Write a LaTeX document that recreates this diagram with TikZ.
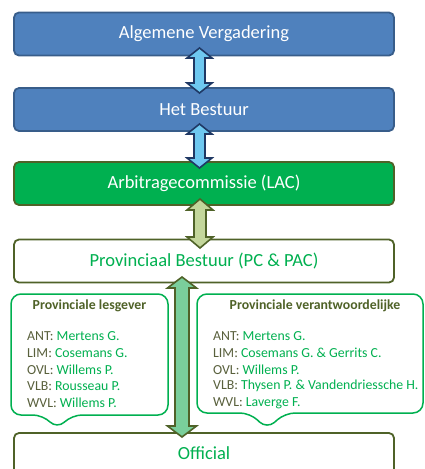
\documentclass[tikz,border=0pt]{standalone}
\usepackage{fontspec}
\setmainfont{Carlito}
\definecolor{bluefill}{RGB}{79,129,189}
\definecolor{blueline}{RGB}{56,93,138}
\definecolor{navy}{RGB}{31,56,100}
\definecolor{lightblue}{RGB}{110,200,240}
\definecolor{grfill}{RGB}{0,176,80}
\definecolor{olive}{RGB}{79,98,40}
\definecolor{lightolive}{RGB}{195,214,155}
\definecolor{midgreen}{RGB}{122,207,155}
\definecolor{txtgreen}{RGB}{0,176,80}
\definecolor{lbl}{RGB}{89,96,60}
\begin{document}
\begin{tikzpicture}[x=1pt,y=-1pt,
  box/.style={rounded corners=5pt, line width=1.8pt, minimum width=380pt, minimum height=43pt, font=\fontsize{18.5}{22}\selectfont},
  bluebox/.style={box, fill=bluefill, draw=blueline, text=white},
  greenbox/.style={box, fill=grfill, draw=olive, text=white},
  whitebox/.style={box, fill=white, draw=olive, text=txtgreen},
  callout/.style={draw=txtgreen, line width=1.5pt, fill=white, rounded corners=10pt},
  ttl/.style={font=\fontsize{13.8}{16}\selectfont\bfseries, text=olive},
  entry/.style={anchor=west, font=\fontsize{13.8}{16}\selectfont, text=lbl, inner sep=0pt},
  darrow/.style={line width=1.6pt, line join=miter}
]
\useasboundingbox (0,0) rectangle (425,469);

\node[bluebox] (av) at (204,34) {Algemene Vergadering};
\node[bluebox] (hb) at (204,109.5) {Het Bestuur};
\node[greenbox] (lac) at (204,183.5) {Arbitragecommissie (LAC)};
\node[whitebox] (pb) at (204,261) {Provinciaal Bestuur (PC \& PAC)};
\node[whitebox, minimum height=50pt] (off) at (204,458) {};
\node[text=txtgreen, font=\fontsize{18.5}{22}\selectfont] (offt) at (204,453) {Official};

% callouts
\draw[callout] (43,415) -- (57,429) -- (72,415) [rounded corners=10pt] -- (168,415) -- (168,294) -- (11,294) -- (11,415) -- cycle;
\draw[callout] (250,413) -- (267,429) -- (285,413) [rounded corners=10pt] -- (423,413) -- (423,294) -- (197,294) -- (197,413) -- cycle;
\node[ttl] (t1) at (89.5,306) {Provinciale lesgever};
\node[ttl] (t2) at (315,306) {Provinciale verantwoordelijke};
\node[entry] (l1) at (27,336) {ANT: \textcolor{txtgreen}{Mertens G.}};
\node[entry] (l2) at (27,352.7) {LIM: \textcolor{txtgreen}{Cosemans G.}};
\node[entry] (l3) at (27,369.4) {OVL: \textcolor{txtgreen}{Willems P.}};
\node[entry] (l4) at (27,386.1) {VLB: \textcolor{txtgreen}{Rousseau P.}};
\node[entry] (l5) at (27,402.8) {WVL: \textcolor{txtgreen}{Willems P.}};
\node[entry] (r1) at (213,336) {ANT: \textcolor{txtgreen}{Mertens G.}};
\node[entry] (r2) at (213,352.7) {LIM: \textcolor{txtgreen}{Cosemans G. \& Gerrits C.}};
\node[entry] (r3) at (213,369.4) {OVL: \textcolor{txtgreen}{Willems P.}};
\node[entry] (r4) at (213,386.1) {VLB: \textcolor{txtgreen}{Thysen P. \& Vandendriessche H.}};
\node[entry] (r5) at (213,402.8) {WVL: \textcolor{txtgreen}{Laverge F.}};

% double block arrows
\newcommand{\blockarrow}[8]{% x, ytop, ybot, half shaft, half head, head length, draw, fill
  \draw[darrow, draw=#7, fill=#8]
    (#1,#2) -- (#1+#5,#2+#6) -- (#1+#4,#2+#6) -- (#1+#4,#3-#6) -- (#1+#5,#3-#6)
    -- (#1,#3) -- (#1-#5,#3-#6) -- (#1-#4,#3-#6) -- (#1-#4,#2+#6) -- (#1-#5,#2+#6) -- cycle;}
\blockarrow{199.5}{48}{93}{5.5}{12.5}{10}{navy}{lightblue}
\blockarrow{199.5}{124}{168}{5.5}{12.5}{10}{navy}{lightblue}
\blockarrow{200}{199}{248}{6}{13}{11}{olive}{lightolive}
\blockarrow{182}{277}{437}{7}{14.5}{11}{olive}{midgreen}
\end{tikzpicture}
\end{document}
